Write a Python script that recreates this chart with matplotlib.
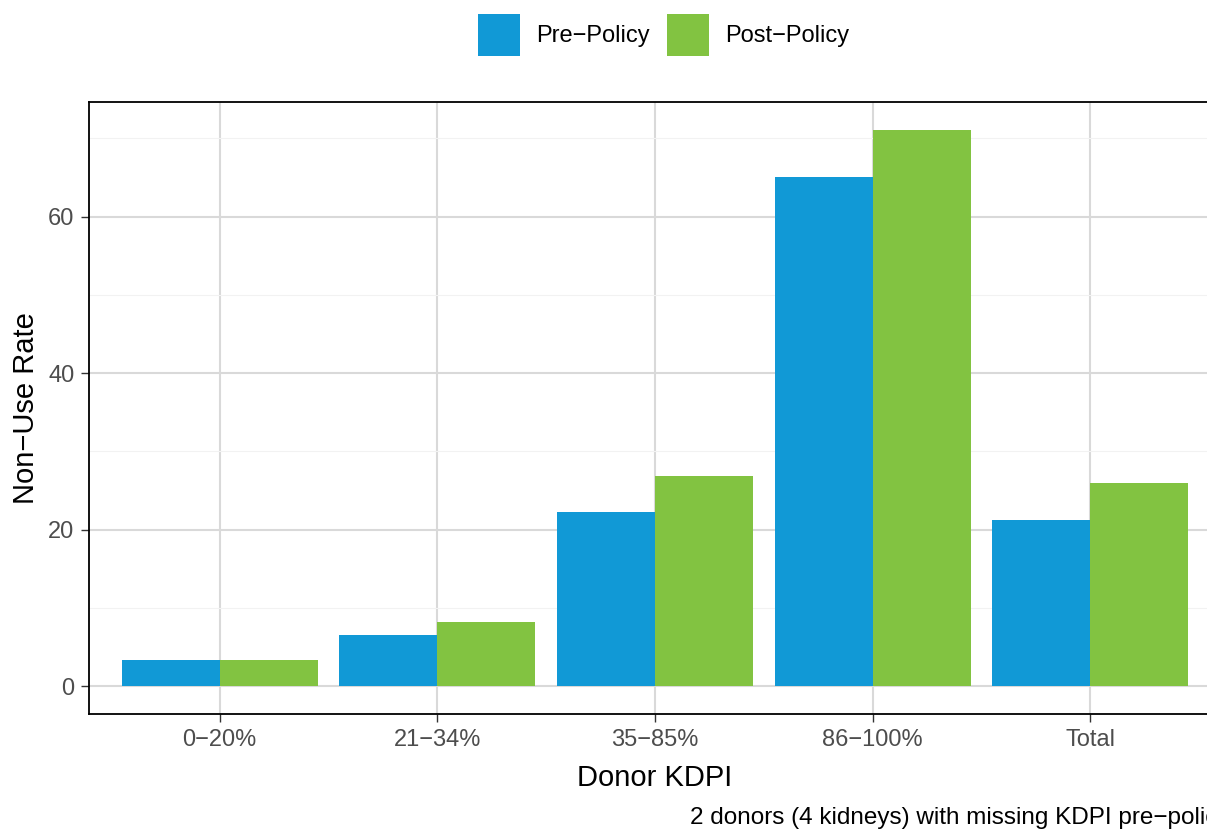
import numpy as np
import matplotlib
matplotlib.use("Agg")
from matplotlib import pyplot as plt
from matplotlib.patches import Patch

plt.rcParams["font.family"] = ["Liberation Sans", "DejaVu Sans"]

categories = ["0\u221220%", "21\u221234%", "35\u221285%", "86\u2212100%", "Total"]
pre_policy = [3.3, 6.6, 22.2, 65.1, 21.2]
post_policy = [3.4, 8.2, 26.9, 71.1, 26.0]
series_names = ["Pre\u2212Policy", "Post\u2212Policy"]
colors = ["#1199D6", "#82C341"]
caption = "2 donors (4 kidneys) with missing KDPI pre\u2212policy"

W, H = 1207, 832
fig = plt.figure(figsize=(W / 100, H / 100), dpi=100)
# panel runs past the right edge of the image, as in the reference
ax = fig.add_axes([89 / W, (H - 714) / H, 1132 / W, (714 - 102) / H])

x = np.arange(len(categories))
bw = 0.45
ax.bar(x - bw / 2, pre_policy, width=bw, color=colors[0], zorder=3)
ax.bar(x + bw / 2, post_policy, width=bw, color=colors[1], zorder=3)

top = max(max(pre_policy), max(post_policy))
ax.set_ylim(-0.05 * top, top * 1.05)
ax.set_xlim(-0.6, len(categories) - 0.4)

ax.set_yticks([0, 20, 40, 60])
ax.set_yticks([10, 30, 50, 70], minor=True)
ax.set_xticks(x)
ax.set_xticklabels(categories)
ax.grid(which="major", color="#D9D9D9", linewidth=1.5, zorder=0)
ax.grid(which="minor", axis="y", color="#F2F2F2", linewidth=0.8, zorder=0)
ax.tick_params(which="major", length=5.5, width=1.0, color="#333333",
               labelcolor="#4D4D4D", labelsize=17)
ax.tick_params(axis="y", pad=5)
ax.tick_params(axis="x", pad=5)
ax.tick_params(which="minor", length=0)
for s in ax.spines.values():
    s.set_color("black")
    s.set_linewidth(1.3)

ax.set_xlabel("Donor KDPI", fontsize=21, labelpad=10)
ax.set_ylabel("Non\u2212Use Rate", fontsize=21, labelpad=6)

handles = [Patch(facecolor=c, edgecolor="none") for c in colors]
fig.legend(handles, series_names, loc="center", bbox_to_anchor=(663.5 / W, 1 - 35 / H),
           ncol=2, frameon=False, fontsize=17, handlelength=1.8, handleheight=2.3,
           handletextpad=0.68, columnspacing=0.72)

fig.text(690 / W, 1 - 818 / H, caption, fontsize=17.5, ha="left", va="center")

fig.savefig("out.png", dpi=100)
